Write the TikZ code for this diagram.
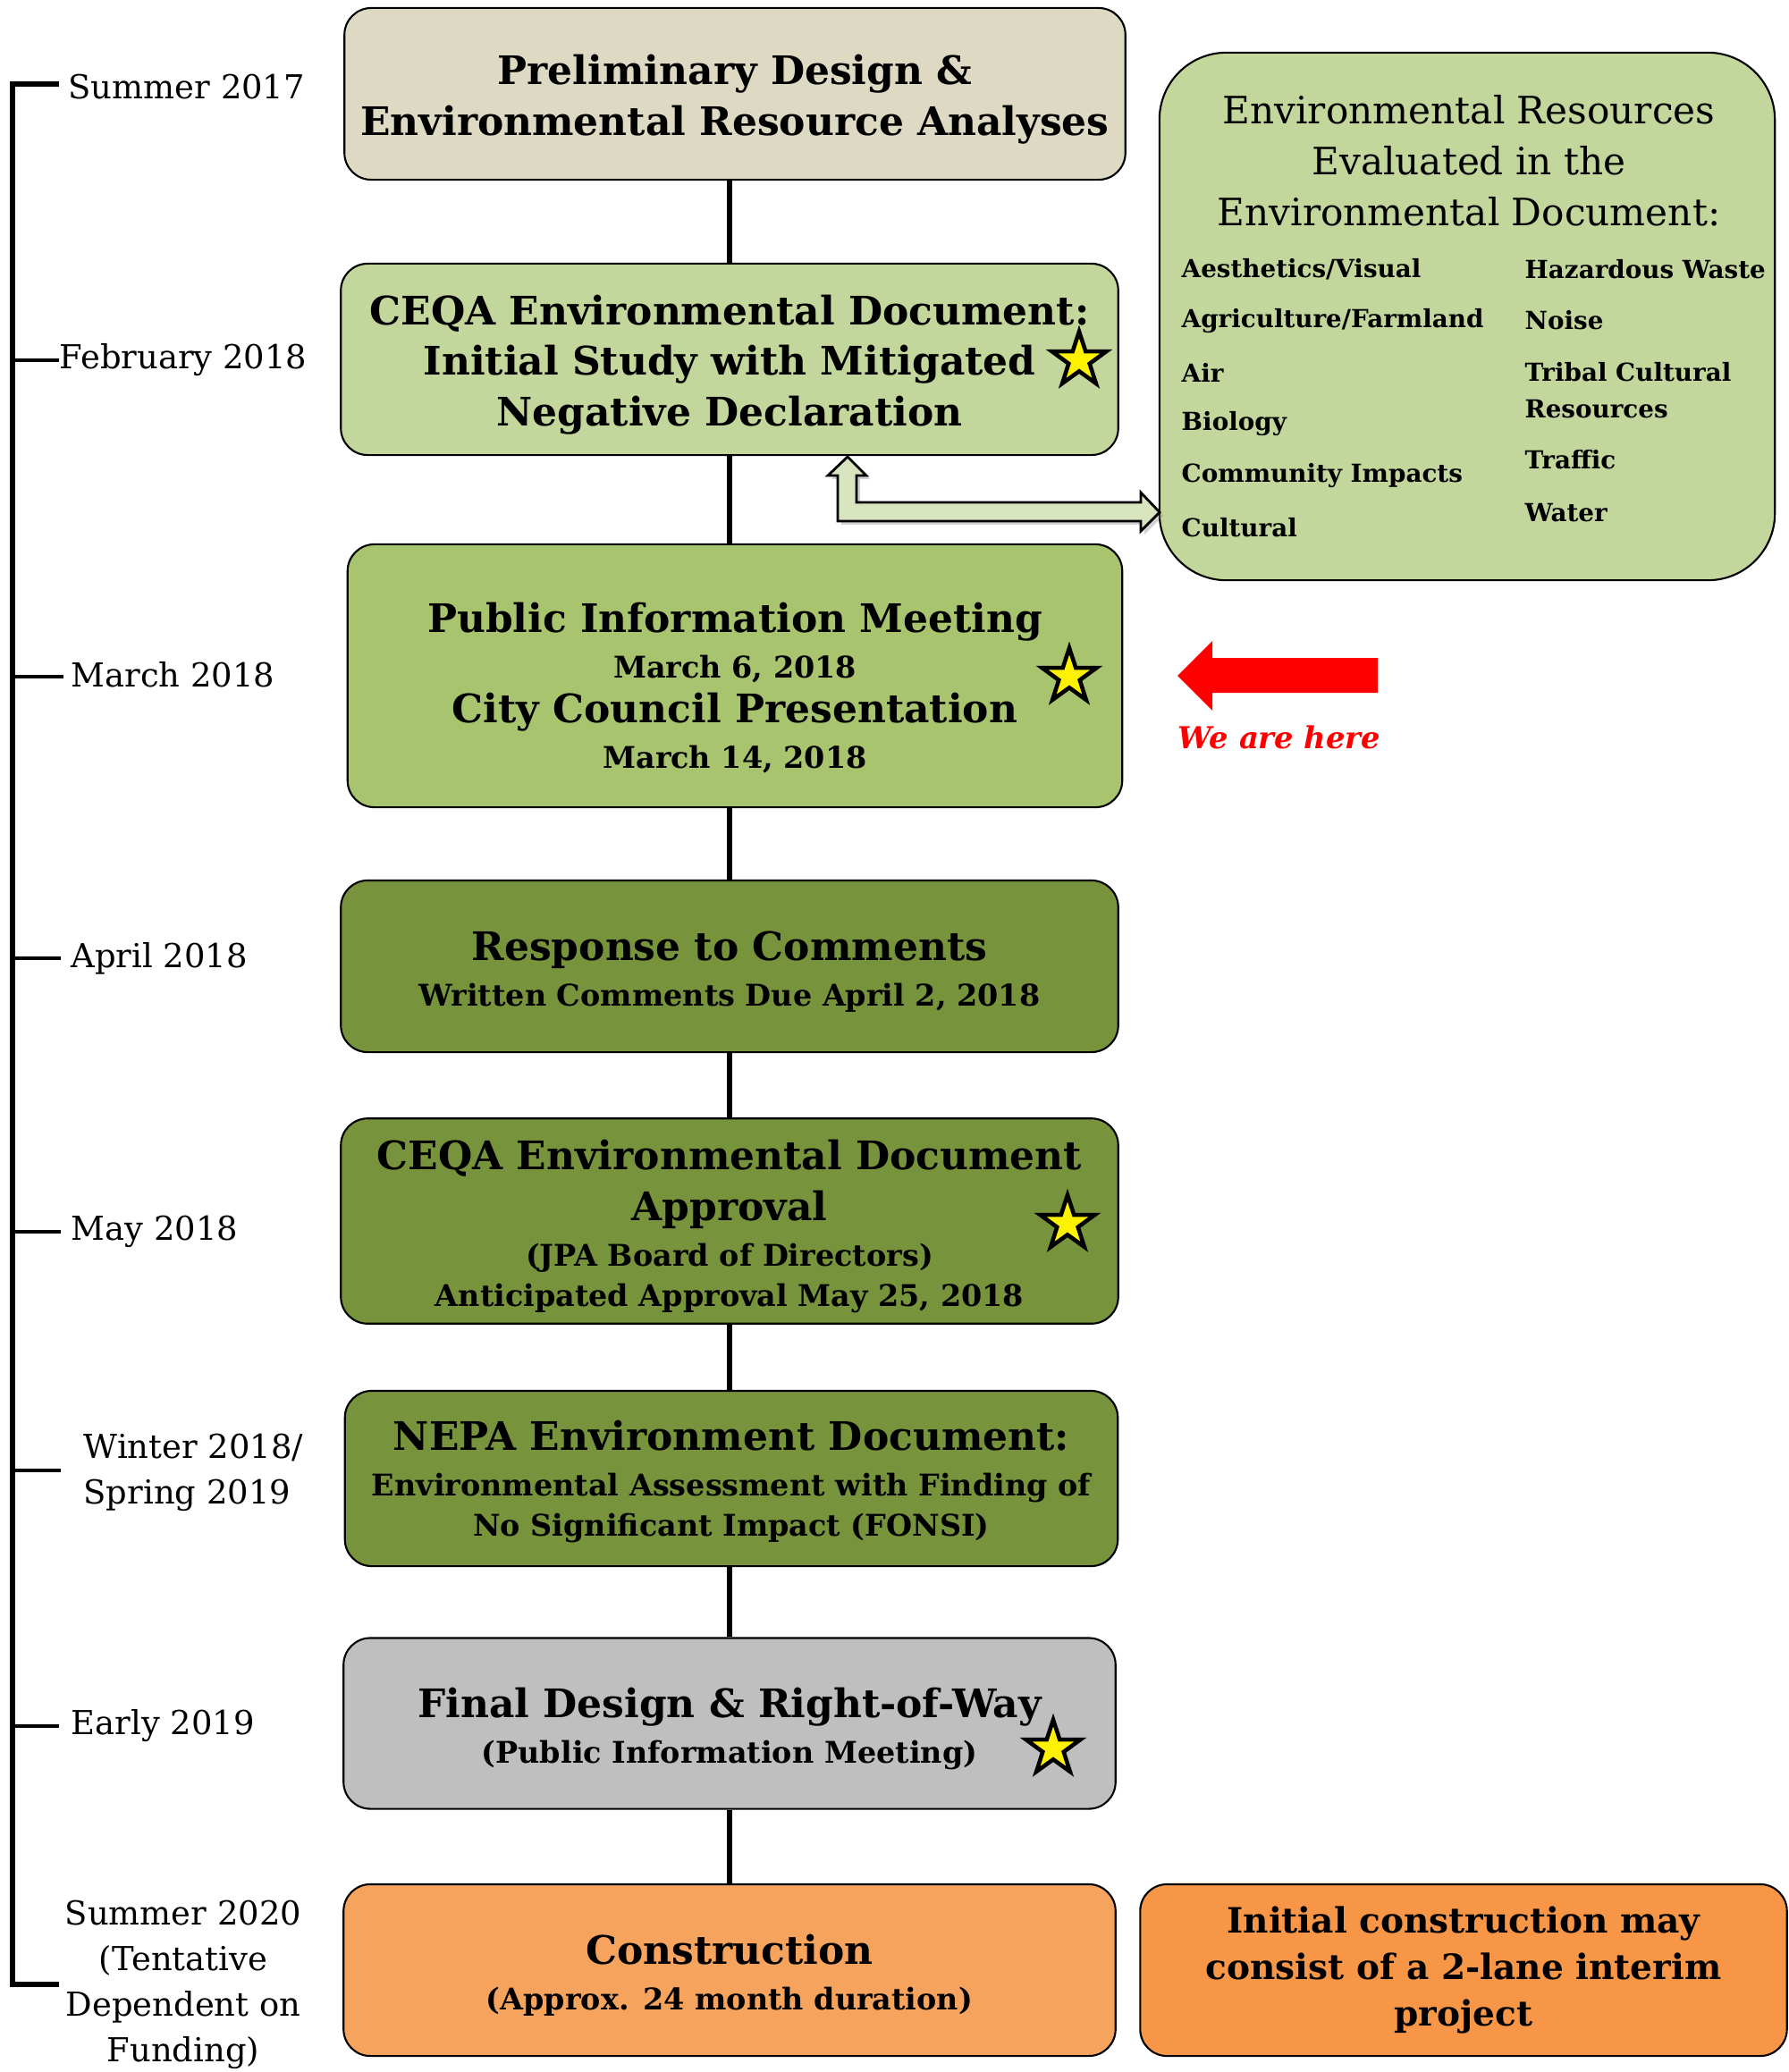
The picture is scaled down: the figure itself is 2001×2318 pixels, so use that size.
\documentclass[tikz,border=0pt]{standalone}
\usepackage{fontspec}
\setmainfont{DejaVu Serif}
\usetikzlibrary{shapes.geometric,shadows}
\definecolor{sand}{HTML}{DDD9C3}
\definecolor{palegreen}{HTML}{C3D69B}
\definecolor{midgreen}{HTML}{A9C46F}
\definecolor{olive}{HTML}{77933C}
\definecolor{boxgray}{HTML}{BFBFBF}
\definecolor{peach}{HTML}{F6A35E}
\definecolor{deeporange}{HTML}{F79646}
\definecolor{mint}{HTML}{D7E4BD}
\newcommand{\tlhead}{\fontsize{12.5}{12.8}\selectfont\bfseries}
\newcommand{\tlsub}{\fontsize{9.5}{12.8}\selectfont\bfseries}
\newcommand{\tlstrut}{\rule{0pt}{13pt}}
\begin{document}
\begin{tikzpicture}[x=0.01cm,y=-0.01cm,
  phase/.style={draw,rounded corners=0.3cm,line width=0.6pt,minimum width=8.69cm,align=center,font=\tlhead},
  goldstar/.style={star,star points=5,star point ratio=2.6,draw,fill=yellow,line width=1.3pt,minimum size=0.64cm,inner sep=0pt},
  when/.style={anchor=west,font=\fontsize{10.5}{14.5}\selectfont,inner sep=0pt},
  item/.style={anchor=west,font=\fontsize{7.9}{11.7}\selectfont\bfseries,inner sep=0pt,align=left},
  link/.style={line width=1.7pt}]
\useasboundingbox (0,0) rectangle (2001,2318);
% timeline
\draw[line width=1.7pt] (66,94) -- (14,94) -- (14,2220) -- (66,2220);
\foreach \y/\e in {403/66,757/71,1072/68,1378/68,1645/68,1931/66}
  \draw[line width=1.2pt] (14,\y) -- (\e,\y);
\node[when] (t1) at (76,97) {Summer 2017};
\node[when] (t2) at (66,403) {February 2018};
\node[when] (t3) at (79,755) {March 2018};
\node[when] (t4) at (79,1072) {April 2018};
\node[when] (t5) at (79,1378) {May 2018};
\node[when,align=left] (t6) at (93,1647) {Winter 2018/\\Spring 2019};
\node[when] (t7) at (79,1931) {Early 2019};
\node[when,anchor=center,align=center] (t8) at (205,2220) {Summer 2020\\(Tentative\\Dependent on\\Funding)};
% phases
\node[phase,fill=sand,minimum width=8.73cm,minimum height=1.92cm] (prelim) at (822,105) {\tlstrut Preliminary Design \&\\[3.4pt]Environmental Resource Analyses};
\node[phase,fill=palegreen,minimum height=2.14cm] (ceqa) at (816,402) {\tlstrut CEQA Environmental Document:\\[3.4pt]Initial Study with Mitigated\\[3.4pt]Negative Declaration};
\node[phase,fill=midgreen,minimum width=8.66cm,minimum height=2.94cm] (pim) at (822,756) {\rule{0pt}{17pt}Public Information Meeting\\[1.7pt]{\tlsub March 6, 2018}\\[1.4pt]City Council Presentation\\[1.7pt]{\tlsub March 14, 2018}};
\node[phase,fill=olive,minimum height=1.92cm] (rtc) at (816,1081) {\tlstrut Response to Comments\\[1.7pt]{\tlsub Written Comments Due April 2, 2018}};
\node[phase,fill=olive,minimum height=2.19cm] (appr) at (816,1366) {\tlstrut CEQA Environmental Document\\[3.4pt]Approval\\[1.7pt]{\tlsub (JPA Board of Directors)}\\{\tlsub Anticipated Approval May 25, 2018}};
\node[phase,fill=olive,minimum width=8.64cm,minimum height=1.96cm] (nepa) at (818,1654) {\rule{0pt}{11.5pt}NEPA Environment Document:\\[1.7pt]{\tlsub Environmental Assessment with Finding of}\\{\tlsub No Significant Impact (FONSI)}};
\node[phase,fill=boxgray,minimum width=8.63cm,minimum height=1.91cm] (final) at (816,1928) {\tlstrut Final Design \& Right-of-Way\\[1.7pt]{\tlsub (Public Information Meeting)}};
\node[phase,fill=peach,minimum width=8.63cm,minimum height=1.92cm] (build) at (816,2204) {\tlstrut Construction\\[1.7pt]{\tlsub (Approx. 24 month duration)}};
\node[phase,fill=deeporange,minimum width=7.23cm,minimum height=1.92cm,font=\fontsize{11.1}{14.7}\selectfont\bfseries] (interim) at (1637,2204) {Initial construction may\\consist of a 2-lane interim\\project};
\foreach \a/\b in {prelim/ceqa,ceqa/pim,pim/rtc,rtc/appr,appr/nepa,nepa/final,final/build}
  \draw[link] (\a.south -| ceqa) -- (\b.north -| ceqa);
% stars
\node[goldstar] (st1) at (1207,403) {};
\node[goldstar] (st2) at (1196,757) {};
\node[goldstar] (st3) at (1194,1369) {};
\node[goldstar] (st4) at (1178,1956) {};
% resources box
\node[draw,fill=palegreen,rounded corners=0.75cm,line width=0.6pt,minimum width=6.88cm,minimum height=5.9cm] (res) at (1641,354) {};
\node[font=\fontsize{12}{16.2}\selectfont,align=center] (restitle) at (1643,180) {Environmental Resources\\Evaluated in the\\Environmental Document:};
\foreach \txt [count=\i] in {Aesthetics/Visual,Agriculture/Farmland,Air,Biology,Community Impacts,Cultural}
  \node[item] (la\i) at (1321,{301+57.8*(\i-1)}) {\txt};
\foreach \txt/\y [count=\i] in {Hazardous Waste/301,Noise/358,{Tribal Cultural\\Resources}/437,Traffic/514,Water/574}
  \node[item] (lb\i) at (1705,\y) {\txt};
% link arrow
\filldraw[fill=mint,line width=0.8pt,drop shadow={shadow xshift=0.04cm,shadow yshift=-0.04cm,opacity=0.35}]
  (948,511) -- (969,532) -- (958,532) -- (958,562) -- (1276,562) -- (1276,551) -- (1297,573)
  -- (1276,594) -- (1276,583) -- (937,583) -- (937,532) -- (926,532) -- cycle;
% we are here
\fill[red] (1317,756) -- (1356,717) -- (1356,736) -- (1541,736) -- (1541,775) -- (1356,775) -- (1356,795) -- cycle;
\node[text=red,font=\fontsize{9.6}{12}\selectfont\bfseries\itshape] (here) at (1431,825) {We are here};
\end{tikzpicture}
\end{document}
